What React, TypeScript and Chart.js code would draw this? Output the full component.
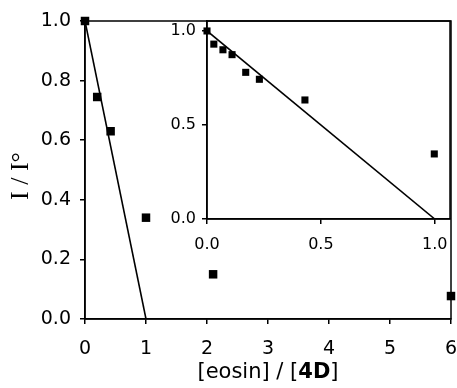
import React, { useEffect, useRef } from "react";
import { Chart, registerables } from "chart.js";
Chart.register(...registerables);

// Main chart data
const mainX = [0, 0.2, 0.42, 1.0, 2.1, 6.0];
const mainY = [1.0, 0.745, 0.63, 0.34, 0.15, 0.077];
const mainFitX = [0, 1];
const mainFitY = [1, 0];
const mainXTicks = [0, 1, 2, 3, 4, 5, 6];
const mainYTicks = [0, 0.2, 0.4, 0.6, 0.8, 1.0];

// Inset data
const insetX = [0, 0.03, 0.07, 0.11, 0.17, 0.23, 0.43, 0.998];
const insetY = [1.0, 0.93, 0.9, 0.874, 0.78, 0.743, 0.633, 0.346];
const insetFitX = [0, 1];
const insetFitY = [1, 0];
const insetTicks = [0, 0.5, 1.0];

const yTitle = "I / I°";
const xTitleParts = [
  { text: "[eosin] / [", bold: false },
  { text: "4D", bold: true },
  { text: "]", bold: false },
];

const boxPlugin = {
  id: "box",
  afterDraw(chart: any) {
    const { ctx, chartArea: a } = chart;
    ctx.save();
    ctx.strokeStyle = "#000";
    ctx.lineWidth = 1.5;
    ctx.strokeRect(a.left, a.top, a.right - a.left, a.bottom - a.top);
    ctx.restore();
  },
};

const titlesPlugin = {
  id: "titles",
  afterDraw(chart: any) {
    const { ctx } = chart;
    ctx.save();
    ctx.fillStyle = "#000";
    // y title
    ctx.font = "26px 'Liberation Serif'";
    ctx.translate(21, 176);
    ctx.rotate(-Math.PI / 2);
    ctx.textAlign = "center";
    ctx.textBaseline = "middle";
    ctx.fillText(yTitle, 0, 0);
    ctx.restore();
    // x title
    ctx.save();
    ctx.fillStyle = "#000";
    ctx.textBaseline = "middle";
    ctx.textAlign = "left";
    const fontOf = (b: boolean) => (b ? "bold " : "") + "21px 'DejaVu Sans'";
    let total = 0;
    for (const p of xTitleParts) {
      ctx.font = fontOf(p.bold);
      total += ctx.measureText(p.text).width;
    }
    let x = 268 - total / 2;
    for (const p of xTitleParts) {
      ctx.font = fontOf(p.bold);
      ctx.fillText(p.text, x, 373);
      x += ctx.measureText(p.text).width;
    }
    ctx.restore();
  },
};

function fmt1(v: number) {
  return v.toFixed(1);
}

const zeroPad = (s: any) => {
  s.paddingLeft = 0;
  s.paddingRight = 0;
  s.paddingTop = 0;
  s.paddingBottom = 0;
};

export default function App() {
  const mainRef = useRef<HTMLCanvasElement>(null);
  const insetRef = useRef<HTMLCanvasElement>(null);

  useEffect(() => {
    const sq = (xs: number[], ys: number[]) => xs.map((x, i) => ({ x, y: ys[i] }));
    const main = new Chart(mainRef.current!, {
      type: "scatter",
      data: {
        datasets: [
          {
            data: sq(mainFitX, mainFitY),
            showLine: true,
            borderColor: "#000",
            borderWidth: 1.6,
            pointRadius: 0,
          },
          {
            data: sq(mainX, mainY),
            pointStyle: "rect",
            pointRadius: 6,
            backgroundColor: "#000",
            borderColor: "#000",
            borderWidth: 0,
            clip: false,
          },
        ],
      },
      options: {
        animation: false,
        responsive: false,
        events: [],
        layout: { padding: { top: 21, right: 6, left: 0, bottom: 0 } },
        plugins: { legend: { display: false }, tooltip: { enabled: false } },
        scales: {
          x: {
            type: "linear",
            min: 0,
            max: 6,
            afterBuildTicks: (s: any) => {
              s.ticks = mainXTicks.map((v) => ({ value: v }));
            },
            afterFit: (s: any) => {
              s.height = 388 - 319;
              zeroPad(s);
            },
            ticks: {
              color: "#000",
              font: { family: "'DejaVu Sans'", size: 19 },
              padding: 14,
              maxRotation: 0,
              callback: (v: any) => String(v),
            },
            grid: { drawOnChartArea: false, drawTicks: true, tickLength: 5, color: "#000", lineWidth: 1.5 },
            border: { display: true, color: "#000", width: 1.5 },
          },
          y: {
            type: "linear",
            min: 0,
            max: 1,
            afterBuildTicks: (s: any) => {
              s.ticks = mainYTicks.map((v) => ({ value: v }));
            },
            afterFit: (s: any) => {
              s.width = 85;
              zeroPad(s);
            },
            ticks: {
              color: "#000",
              font: { family: "'DejaVu Sans'", size: 19 },
              padding: 9,
              callback: (v: any) => fmt1(Number(v)),
            },
            grid: { drawOnChartArea: false, drawTicks: true, tickLength: 5, color: "#000", lineWidth: 1.5 },
            border: { display: true, color: "#000", width: 1.5 },
          },
        },
      },
      plugins: [boxPlugin, titlesPlugin],
    } as any);

    const inset = new Chart(insetRef.current!, {
      type: "scatter",
      data: {
        datasets: [
          {
            data: sq(insetFitX, insetFitY),
            showLine: true,
            borderColor: "#000",
            borderWidth: 1.6,
            pointRadius: 0,
          },
          {
            data: sq(insetX, insetY),
            pointStyle: "rect",
            pointRadius: 5,
            backgroundColor: "#000",
            borderColor: "#000",
            borderWidth: 0,
            clip: false,
          },
        ],
      },
      options: {
        animation: false,
        responsive: false,
        events: [],
        layout: { padding: { top: 21, right: 7, left: 0, bottom: 0 } },
        plugins: { legend: { display: false }, tooltip: { enabled: false } },
        scales: {
          x: {
            type: "linear",
            min: 0,
            max: 1.067,
            afterBuildTicks: (s: any) => {
              s.ticks = insetTicks.map((v) => ({ value: v }));
            },
            afterFit: (s: any) => {
              s.height = 260 - 219;
              zeroPad(s);
            },
            ticks: {
              color: "#000",
              font: { family: "'DejaVu Sans'", size: 16 },
              padding: 11,
              maxRotation: 0,
              callback: (v: any) => fmt1(Number(v)),
            },
            grid: { drawOnChartArea: false, drawTicks: true, tickLength: 5, color: "#000", lineWidth: 1.5 },
            border: { display: true, color: "#000", width: 1.5 },
          },
          y: {
            type: "linear",
            min: 0,
            max: 1.053,
            afterBuildTicks: (s: any) => {
              s.ticks = insetTicks.map((v) => ({ value: v }));
            },
            afterFit: (s: any) => {
              s.width = 47;
              zeroPad(s);
            },
            ticks: {
              color: "#000",
              font: { family: "'DejaVu Sans'", size: 16 },
              padding: 6,
              callback: (v: any) => fmt1(Number(v)),
            },
            grid: { drawOnChartArea: false, drawTicks: true, tickLength: 5, color: "#000", lineWidth: 1.5 },
            border: { display: true, color: "#000", width: 1.5 },
          },
        },
      },
      plugins: [boxPlugin],
    } as any);

    return () => {
      main.destroy();
      inset.destroy();
    };
  }, []);

  return (
    <div style={{ position: "fixed", left: 0, top: 0, width: 457, height: 388, background: "#fff" }}>
      <canvas ref={mainRef} width={457} height={388} style={{ position: "absolute", left: 0, top: 0 }} />
      <canvas ref={insetRef} width={297} height={260} style={{ position: "absolute", left: 160, top: 0 }} />
    </div>
  );
}
